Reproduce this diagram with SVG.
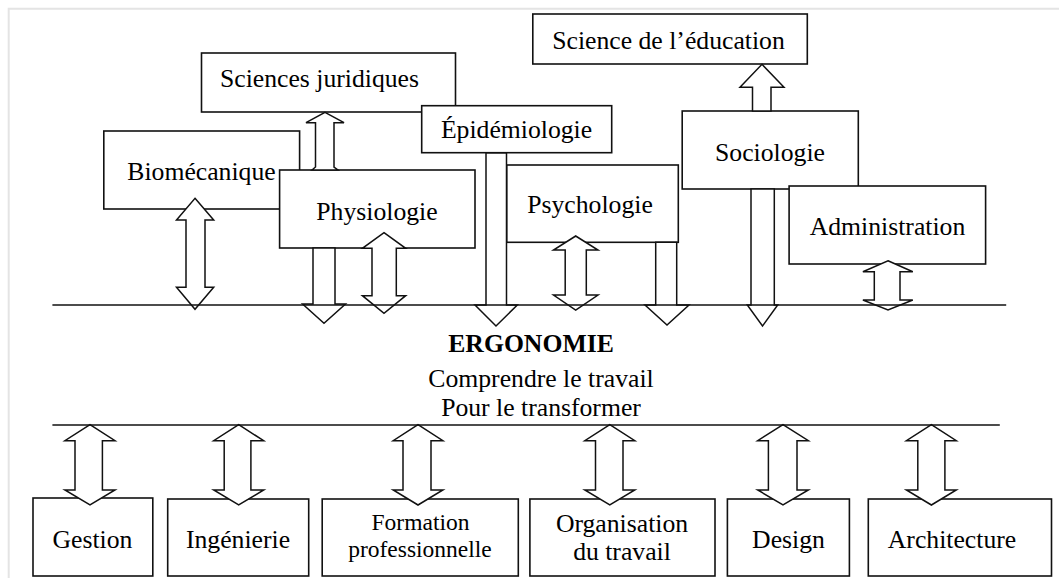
<svg xmlns="http://www.w3.org/2000/svg" width="1059" height="578" viewBox="0 0 1059 578">
<style>
.box{fill:#fff;stroke:#111;stroke-width:1.6}
.arr{fill:#fff;stroke:#111;stroke-width:1.5;stroke-linejoin:miter}
.ln{stroke:#111;stroke-width:1.6;fill:none}
.frame{stroke:#e4e4e4;stroke-width:2;fill:none}
text{font-family:"Liberation Serif","Times New Roman",serif;font-size:25.7px;fill:#000;text-anchor:middle}
.sm{font-size:23.5px}
.b{font-weight:bold}
</style>
<rect width="1059" height="578" fill="#fff"/>
<path class="frame" d="M8.7,578 V8.7 H1059"/>
<g id="sciences-juridiques"><rect class="box" x="201.5" y="53" width="254" height="59"/><text x="319.5" y="87">Sciences juridiques</text></g>
<g id="biomecanique"><rect class="box" x="103.8" y="131" width="195.8" height="78"/><text x="201.5" y="180">Biomécanique</text></g>
<g id="science-education"><rect class="box" x="532.8" y="14" width="274.5" height="50"/><text x="668.5" y="48.5">Science de l’éducation</text></g>
<g id="epidemiologie"><rect class="box" x="421.7" y="105.7" width="190" height="47"/><text x="516.5" y="137.5">Épidémiologie</text></g>
<g id="sociologie"><rect class="box" x="682.2" y="111" width="176.1" height="78"/><text x="770" y="161">Sociologie</text></g>
<g id="physiologie"><rect class="box" x="279.6" y="170" width="195.4" height="78"/><text x="377" y="220">Physiologie</text></g>
<g id="psychologie"><rect class="box" x="506.7" y="165" width="171.6" height="77.3"/><text x="590" y="213">Psychologie</text></g>
<g id="administration"><rect class="box" x="789.1" y="186" width="196.5" height="78"/><text x="887.5" y="235">Administration</text></g>
<g id="ergonomie"><text class="b" x="531" y="352">ERGONOMIE</text><text x="541" y="387">Comprendre le travail</text><text x="541" y="416">Pour le transformer</text></g>
<g id="gestion"><rect class="box" x="33" y="498" width="119.8" height="78"/><text x="92.5" y="548">Gestion</text></g>
<g id="ingenierie"><rect class="box" x="167.7" y="499" width="141" height="77"/><text x="238" y="548">Ingénierie</text></g>
<g id="formation"><rect class="box" x="322.2" y="499" width="196.1" height="77"/><text class="sm" x="420.5" y="530">Formation</text><text class="sm" x="420" y="557">professionnelle</text></g>
<g id="organisation"><rect class="box" x="529.9" y="499" width="185.1" height="77"/><text x="622" y="532">Organisation</text><text x="622" y="560">du travail</text></g>
<g id="design"><rect class="box" x="727.4" y="499" width="122" height="77"/><text x="788.5" y="548">Design</text></g>
<g id="architecture"><rect class="box" x="868.3" y="499" width="183.2" height="77"/><text x="952" y="548">Architecture</text></g>
<g id="connectors">
<polygon class="arr" points="325,112.3 344,122.7 334,122.7 334,167 338,170 312,170 315.5,167 315.5,122.7 306,122.7"/>
<polygon class="arr" points="195,198.3 213.7,220 205,220 205,287.3 213.7,287.3 195,309.3 176.5,287.3 186,287.3 186,220 176.5,220"/>
<polygon class="arr" points="313,248 335,248 335,304 345.5,304 324,323.3 302.6,304 313,304"/>
<polygon class="arr" points="384,232.7 405.7,248.3 396.3,248.3 396.3,295.7 405.7,295.7 384,313.3 362.4,295.7 372,295.7 372,248.3 362.4,248.3"/>
<polygon class="arr" points="486,153 506.5,153 506.5,305 517.3,305 496,326 475,305 486,305"/>
<polygon class="arr" points="575.7,236 598,250 586.3,250 586.3,295 598,295 575.7,310 553.5,295 565.2,295 565.2,250 553.5,250"/>
<polygon class="arr" points="655.7,242.3 676.7,242.3 676.7,305 689,305 667,325 645,305 655.7,305"/>
<polygon class="arr" points="751,189 774.3,189 774.3,305 777.7,305 762.5,326 747.3,305 751,305"/>
<polygon class="arr" points="752.5,111 771,111 771,87.3 784,87.3 762,64.3 740,87.3 752.5,87.3"/>
<polygon class="arr" points="888,260.7 912.8,271.7 900,271.7 900,300 912.8,300 888,310 862.9,300 874.3,300 874.3,271.7 862.9,271.7"/>
<polygon class="arr" points="90,424.7 115,440.7 102.4,440.7 102.4,490 115,490 90,505 64.9,490 75,490 75,440.7 64.9,440.7"/>
<polygon class="arr" points="238.7,424.7 263.7,440.7 250.9,440.7 250.9,490 263.7,490 238.7,505 213.7,490 224.2,490 224.2,440.7 213.7,440.7"/>
<polygon class="arr" points="418,424.7 442.9,440.7 431,440.7 431,490 442.9,490 418,505 393.2,490 403,490 403,440.7 393.2,440.7"/>
<polygon class="arr" points="609.8,424.7 634.8,440.7 623,440.7 623,490 634.8,490 609.8,505 584.8,490 595.5,490 595.5,440.7 584.8,440.7"/>
<polygon class="arr" points="783,424.7 808.4,440.7 797,440.7 797,490 808.4,490 783,505 757.7,490 768.4,490 768.4,440.7 757.7,440.7"/>
<polygon class="arr" points="931.4,424.7 956.3,440.7 944.9,440.7 944.9,490 956.3,490 931.4,505 906.4,490 917.8,490 917.8,440.7 906.4,440.7"/>
<line class="ln" x1="52.4" y1="305" x2="1006.2" y2="305"/>
<line class="ln" x1="52.4" y1="425" x2="999.8" y2="425"/>
</g>
</svg>
